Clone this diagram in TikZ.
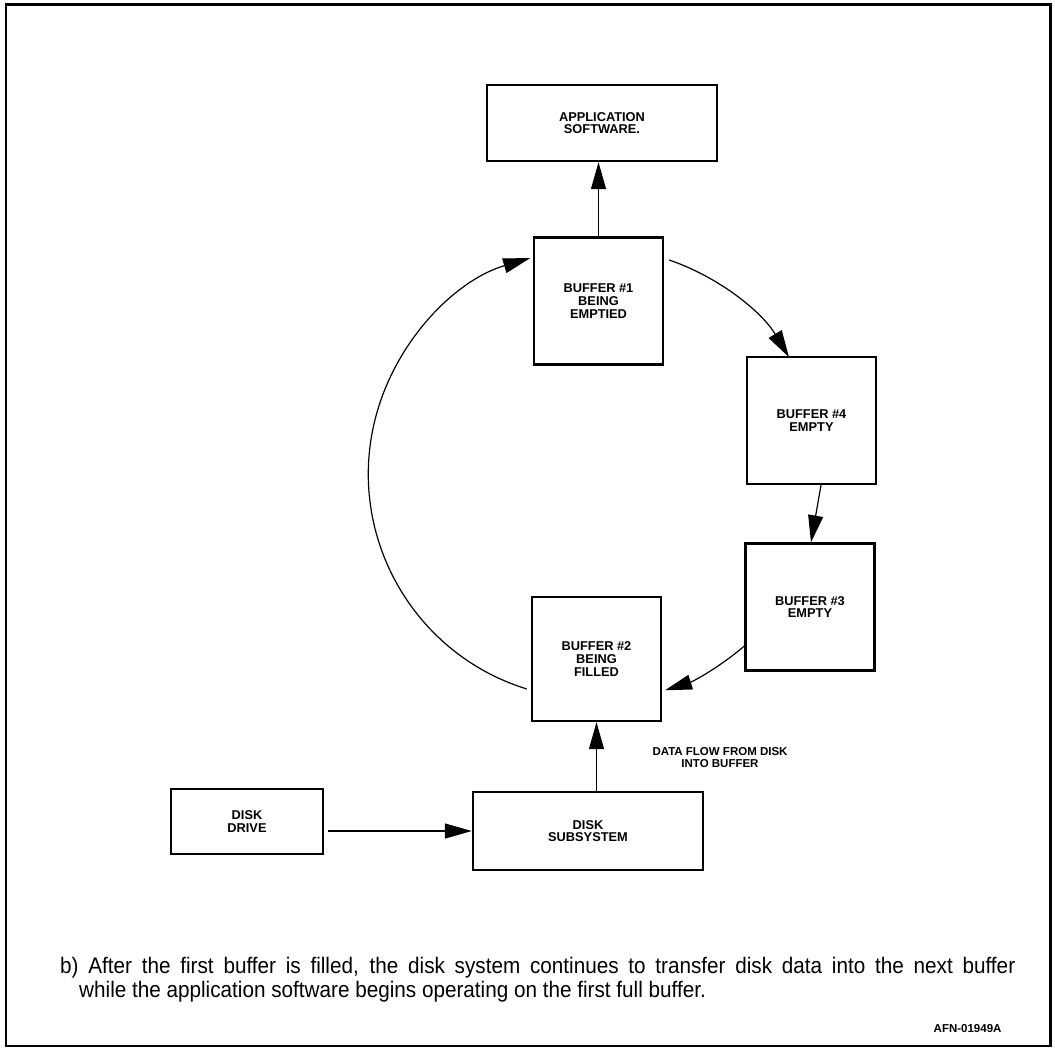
\documentclass[tikz,border=0pt]{standalone}
\usepackage{fontspec}
\setmainfont{Liberation Sans}
\newfontfamily\narrowsans{Liberation Sans}[FakeStretch=0.92]
\usetikzlibrary{arrows.meta}

% label fonts
\newcommand\lblfont{\bfseries\fontsize{12.8pt}{12.6pt}\selectfont}
\newcommand\flowfont{\bfseries\fontsize{11.5pt}{12pt}\selectfont}
\newcommand\capfont{\narrowsans\fontsize{22.5pt}{24pt}\selectfont}
\newcommand\codefont{\bfseries\fontsize{11.5pt}{11.5pt}\selectfont}

\begin{document}
\begin{tikzpicture}[x=1pt,y=1pt,
  box/.style={draw, line width=2.4pt, inner sep=0pt, align=center, font=\lblfont},
  bufbox/.style={box, minimum width=129pt, minimum height=127pt},
  tip/.style={-{Triangle[length=27pt,width=15pt]}},
  conn/.style={tip, line width=1.4pt},
  ring/.style={tip, line width=1.2pt},
]
\useasboundingbox (0,0) rectangle (1055,-1055);
\fill[white] (0,0) rectangle (1055,-1055);
\draw[line width=2.8pt] (6,-4.5) rectangle (1050.5,-1046);

% boxes
\node[box, minimum width=230pt, minimum height=76pt] (app) at (602,-123) {APPLICATION\\SOFTWARE.};
\node[bufbox] (b1) at (598.5,-301) {BUFFER \#1\\BEING\\EMPTIED};
\node[bufbox] (b4) at (811.5,-420.5) {BUFFER \#4\\EMPTY};
\node[bufbox] (b3) at (810,-607) {BUFFER \#3\\EMPTY};
\node[bufbox, minimum height=124pt] (b2) at (596.5,-659) {BUFFER \#2\\BEING\\FILLED};
\node[box, minimum width=152pt, minimum height=65pt] (dd) at (247,-821.5) {DISK\\DRIVE};
\node[box, minimum width=230pt, minimum height=78pt] (ds) at (588,-831) {DISK\\SUBSYSTEM};

% straight connectors
\draw[conn] (b1.north) -- (b1.north |- app.south);
\draw[conn] (ds.north -| b2.south) -- (b2.south);
\draw[conn, shorten <=4pt] (dd.east |- ds.west) -- (ds.west);

% buffer ring: arcs of one circle through the four buffers
\draw[ring] ([shift={(5,41)}]b1.east) arc[start angle=71, end angle=30.9, radius=225];
\draw[ring] ([xshift=9.5pt]b4.south) -- ([xshift=1pt]b3.north);
\draw[ring] ([yshift=-39pt]b3.west) arc[start angle=-49.2, end angle=-72.5, radius=225];
\draw[ring] ([shift={(-4,-30)}]b2.west) arc[start angle=252.8, end angle=106.3, radius=225];

% labels
\node[align=center, font=\flowfont] (flow) at (720,-758) {DATA FLOW FROM DISK\\INTO BUFFER};
\node[anchor=base west, font=\capfont, inner sep=0pt] (cap1) at (60,-973)
  {\makebox[955pt][s]{b)\ After the first buffer is filled, the disk system continues to transfer disk data into the next buffer}};
\node[anchor=base west, font=\capfont, inner sep=0pt] (cap2) at (79,-997)
  {while the application software begins operating on the first full buffer.};
\node[anchor=east, font=\codefont] (code) at (1005,-1029) {AFN-01949A};
\end{tikzpicture}
\end{document}
